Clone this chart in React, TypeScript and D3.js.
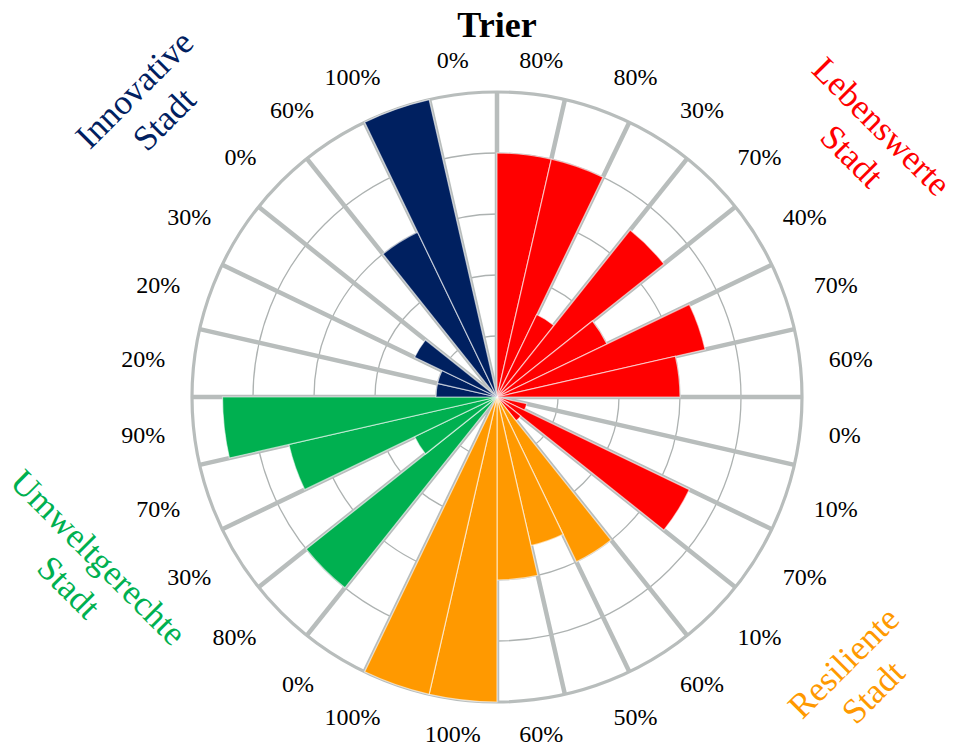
import React from "react";
import * as d3 from "d3";

// ---- Data ----
const values = [80, 80, 30, 70, 40, 70, 60, 0, 10, 70, 10, 60, 50, 60, 100, 100, 0, 80, 30, 70, 90, 20, 20, 30, 0, 60, 100, 0];
const pointGroups = [
  "L", "L", "L", "L", "L", "L", "L", "L", "L", "L", "L",
  "R", "R", "R", "R", "R", "R",
  "U", "U", "U", "U",
  "I", "I", "I", "I", "I", "I", "I",
];
const groupKeys = ["L", "R", "U", "I"];
const groupLines = [
  ["Lebenswerte", "Stadt"],
  ["Resiliente", "Stadt"],
  ["Umweltgerechte", "Stadt"],
  ["Innovative", "Stadt"],
];
const groupColors = ["#ff0000", "#ff9900", "#00b050", "#002060"];
const gridValues = [20, 40, 60, 80];
const titleText = "Trier";

export default function App() {
  const W = 957;
  const H = 746;
  const cx = 497;
  const cy = 397;
  const R = 305;
  const n = values.length;
  const step = (2 * Math.PI) / n;
  const r = d3.scaleLinear().domain([0, 100]).range([0, R]);
  const arc = d3.arc<any>();
  const gridColor = "#b8bdbc";
  const colorOf = (g: string) => groupColors[groupKeys.indexOf(g)];

  const fs = 24;
  const Ra = R + 28;
  const centerZone = (15 * Math.PI) / 180;
  const labelPos = (i: number) => {
    const a = (i + 0.5) * step;
    const s = Math.sin(a);
    const c = Math.cos(a);
    const x = cx + Ra * s + 7 * Math.abs(c) * Math.sign(s);
    const y = cy - (Ra + 6) * c;
    let anchor: "start" | "end" | "middle" = "middle";
    if (a > centerZone && a < Math.PI - centerZone) anchor = "start";
    else if (a > Math.PI + centerZone && a < 2 * Math.PI - centerZone) anchor = "end";
    return { x, y, anchor };
  };

  // positions / rotations of the group captions (layout, not data)
  const captionLayout = [
    { x: 882, y: 126, rot: 45 },
    { x: 843, y: 662, rot: -45 },
    { x: 99, y: 557, rot: 45 },
    { x: 134, y: 89, rot: -45 },
  ];

  return (
    <svg
      width={W}
      height={H}
      style={{ position: "absolute", left: 0, top: 0 }}
      fontFamily="'Liberation Serif', 'Times New Roman', serif"
    >
      <rect width={W} height={H} fill="#ffffff" />
      <g transform={`translate(${cx},${cy})`}>
        {gridValues.map((v) => (
          <circle key={"c" + v} r={r(v)} fill="none" stroke="#adb2b1" strokeWidth={1.3} />
        ))}
        {d3.range(n).map((i) => {
          const a = i * step;
          return (
            <line
              key={"l" + i}
              x1={0}
              y1={0}
              x2={R * Math.sin(a)}
              y2={-R * Math.cos(a)}
              stroke={gridColor}
              strokeWidth={4.5}
            />
          );
        })}
        <circle r={R} fill="none" stroke={gridColor} strokeWidth={3.2} />
        {values.map((v, i) =>
          v > 0 ? (
            <path
              key={"b" + i}
              d={
                arc({
                  innerRadius: 0,
                  outerRadius: r(v),
                  startAngle: i * step,
                  endAngle: (i + 1) * step,
                }) as string
              }
              fill={colorOf(pointGroups[i])}
              stroke="#ffffff"
              strokeOpacity={0.6}
              strokeWidth={1.2}
            />
          ) : null
        )}
      </g>
      {values.map((v, i) => {
        const t = `${v}%`;
        const p = labelPos(i);
        return (
          <text
            key={"t" + i}
            x={p.x}
            y={p.y}
            dy="0.33em"
            textAnchor={p.anchor}
            fontSize={fs}
            fill="#000000"
          >
            {t}
          </text>
        );
      })}
      <text x={cx} y={37} textAnchor="middle" fontSize={36} fontWeight="bold" fill="#000000">
        {titleText}
      </text>
      {groupLines.map((lines, gi) => {
        const c = captionLayout[gi];
        return (
          <g key={"g" + gi} transform={`translate(${c.x},${c.y}) rotate(${c.rot})`}>
            {lines.map((ln, li) => (
              <text
                key={li}
                x={0}
                y={li * 42}
                dy="0.35em"
                textAnchor="middle"
                fontSize={35}
                fill={groupColors[gi]}
              >
                {ln}
              </text>
            ))}
          </g>
        );
      })}
    </svg>
  );
}
